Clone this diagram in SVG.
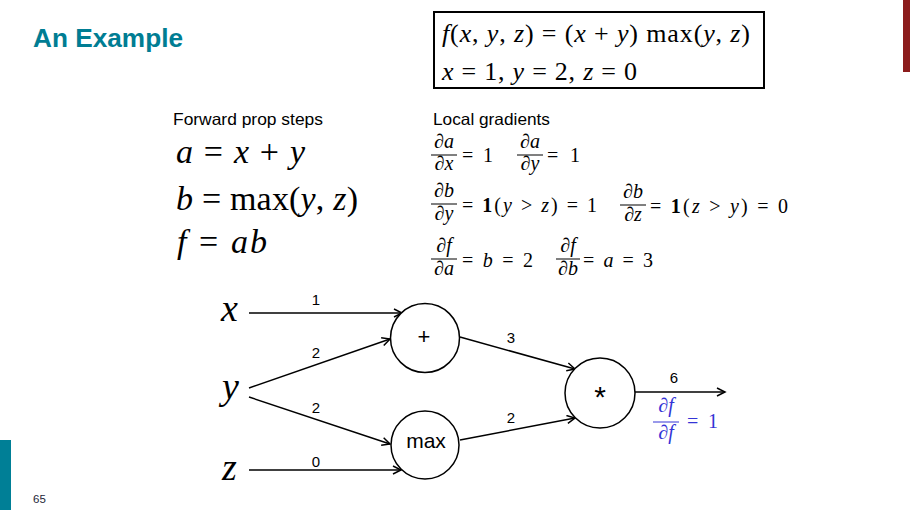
<svg xmlns="http://www.w3.org/2000/svg" width="910" height="510" viewBox="0 0 910 510">
<style>
.m{font-family:"Liberation Serif","DejaVu Serif",serif;fill:#000}
.i{font-style:italic}
.b{font-weight:bold}
.s{font-family:"Liberation Sans",Arial,sans-serif;fill:#000}
.edge{stroke:#000;stroke-width:1.5;fill:none}
.node{fill:#fff;stroke:#000;stroke-width:1.5}
.bar{stroke:#000;stroke-width:1}
.lbl{font-family:"Liberation Sans",Arial,sans-serif;font-size:15px;text-anchor:middle;fill:#000}
.fr{font-size:20px;text-anchor:middle}
.eq{font-size:20px}
.blue{fill:#3434d6}
</style>
<defs>
<marker id="arr" markerUnits="userSpaceOnUse" markerWidth="12" markerHeight="10" refX="10" refY="5" orient="auto" viewBox="0 0 12 10">
<path d="M2,1 L10,5 L2,9" fill="none" stroke="#000" stroke-width="1.5"/>
</marker>
</defs>
<rect x="0" y="0" width="910" height="510" fill="#fff"/>
<rect x="903" y="0" width="7" height="72" fill="#8c1c1c"/>
<rect x="0" y="440" width="11" height="70" fill="#007f96"/>
<text x="33" y="47" font-family="Liberation Sans,Arial,sans-serif" font-weight="bold" font-size="26" fill="#007d93" textLength="150" lengthAdjust="spacingAndGlyphs">An Example</text>
<text x="33" y="503" font-family="Liberation Sans,Arial,sans-serif" font-size="11.5" fill="#1e2638">65</text>

<g id="formula-box">
<rect x="434" y="12" width="330" height="76" fill="none" stroke="#000" stroke-width="2"/>
<text class="m" x="442" y="42" font-size="26" textLength="308" lengthAdjust="spacing"><tspan class="i">f</tspan>(<tspan class="i">x</tspan>, <tspan class="i">y</tspan>, <tspan class="i">z</tspan>) = (<tspan class="i">x</tspan> + <tspan class="i">y</tspan>) max(<tspan class="i">y</tspan>, <tspan class="i">z</tspan>)</text>
<text class="m" x="442" y="80" font-size="26" textLength="195" lengthAdjust="spacing"><tspan class="i">x</tspan> = 1, <tspan class="i">y</tspan> = 2, <tspan class="i">z</tspan> = 0</text>
</g>

<g id="forward-steps">
<text class="s" x="173" y="125" font-size="16.5" textLength="150" lengthAdjust="spacingAndGlyphs">Forward prop steps</text>
<text class="m" x="176" y="163" font-size="34" textLength="129" lengthAdjust="spacing"><tspan class="i">a</tspan> = <tspan class="i">x</tspan> + <tspan class="i">y</tspan></text>
<text class="m" x="176" y="210" font-size="34" textLength="182" lengthAdjust="spacing"><tspan class="i">b</tspan> = max(<tspan class="i">y</tspan>, <tspan class="i">z</tspan>)</text>
<text class="m" x="177" y="253" font-size="34" textLength="90" lengthAdjust="spacing"><tspan class="i">f</tspan> = <tspan class="i">ab</tspan></text>
</g>

<g id="local-gradients">
<text class="s" x="433" y="125" font-size="16.5" textLength="117" lengthAdjust="spacingAndGlyphs">Local gradients</text>
<!-- row 1 -->
<text class="m i fr" x="444" y="148">∂a</text>
<line class="bar" x1="431" y1="155" x2="457" y2="155"/>
<text class="m i fr" x="444" y="170">∂x</text>
<text class="m eq" x="462" y="162" textLength="31" lengthAdjust="spacing">= 1</text>
<text class="m i fr" x="530" y="148">∂a</text>
<line class="bar" x1="517" y1="155" x2="543" y2="155"/>
<text class="m i fr" x="530" y="170">∂y</text>
<text class="m eq" x="547" y="162" textLength="33" lengthAdjust="spacing">= 1</text>
<!-- row 2 -->
<text class="m i fr" x="444" y="197">∂b</text>
<line class="bar" x1="431" y1="204" x2="457" y2="204"/>
<text class="m i fr" x="444" y="220">∂y</text>
<text class="m eq" x="462" y="212" textLength="135" lengthAdjust="spacing">= <tspan class="b">1</tspan>(<tspan class="i">y</tspan> &gt; <tspan class="i">z</tspan>) = 1</text>
<text class="m i fr" x="633" y="198">∂b</text>
<line class="bar" x1="620" y1="205" x2="646" y2="205"/>
<text class="m i fr" x="633" y="221">∂z</text>
<text class="m eq" x="650" y="213" textLength="138" lengthAdjust="spacing">= <tspan class="b">1</tspan>(<tspan class="i">z</tspan> &gt; <tspan class="i">y</tspan>) = 0</text>
<!-- row 3 -->
<text class="m i fr" x="444" y="252">∂f</text>
<line class="bar" x1="431" y1="259" x2="457" y2="259"/>
<text class="m i fr" x="444" y="275">∂a</text>
<text class="m eq" x="462" y="267" textLength="71" lengthAdjust="spacing">= <tspan class="i">b</tspan> = 2</text>
<text class="m i fr" x="568" y="252">∂f</text>
<line class="bar" x1="556" y1="259" x2="580" y2="259"/>
<text class="m i fr" x="568" y="275">∂b</text>
<text class="m eq" x="583" y="267" textLength="70" lengthAdjust="spacing">= <tspan class="i">a</tspan> = 3</text>
</g>

<g id="connectors">
<path class="edge" d="M249,313 L402,313" marker-end="url(#arr)"/>
<path class="edge" d="M249,388 L390,339" marker-end="url(#arr)"/>
<path class="edge" d="M249,397 L390,444" marker-end="url(#arr)"/>
<path class="edge" d="M249,470 L401,470" marker-end="url(#arr)"/>
<path class="edge" d="M460,337 L575,369" marker-end="url(#arr)"/>
<path class="edge" d="M460,440 L575,418" marker-end="url(#arr)"/>
<path class="edge" d="M635,392 L725,392" marker-end="url(#arr)"/>
<text class="lbl" x="316" y="305">1</text>
<text class="lbl" x="316" y="358">2</text>
<text class="lbl" x="316" y="413">2</text>
<text class="lbl" x="316" y="467">0</text>
<text class="lbl" x="511" y="343">3</text>
<text class="lbl" x="511" y="423">2</text>
<text class="lbl" x="674" y="383">6</text>
</g>

<g id="input-x"><text class="m i" x="221" y="321" font-size="38">x</text></g>
<g id="input-y"><text class="m i" x="222" y="399" font-size="38">y</text></g>
<g id="input-z"><text class="m i" x="222" y="480" font-size="38">z</text></g>

<g id="node-plus">
<circle class="node" cx="425" cy="338" r="34.5"/>
<text class="s" x="424" y="344" font-size="22" text-anchor="middle">+</text>
</g>
<g id="node-max">
<circle class="node" cx="425" cy="445" r="34"/>
<text class="s" x="426" y="448" font-size="21" text-anchor="middle">max</text>
</g>
<g id="node-mul">
<circle class="node" cx="600" cy="393" r="35"/>
<text class="s" x="600" y="407" font-size="30" text-anchor="middle">*</text>
</g>

<g id="output-grad">
<text class="m i fr blue" x="666" y="412">∂f</text>
<line x1="653" y1="422" x2="679" y2="422" stroke="#3434d6" stroke-width="1"/>
<text class="m i fr blue" x="666" y="439">∂f</text>
<text class="m eq blue" x="687" y="428" textLength="31" lengthAdjust="spacing">= 1</text>
</g>
</svg>
